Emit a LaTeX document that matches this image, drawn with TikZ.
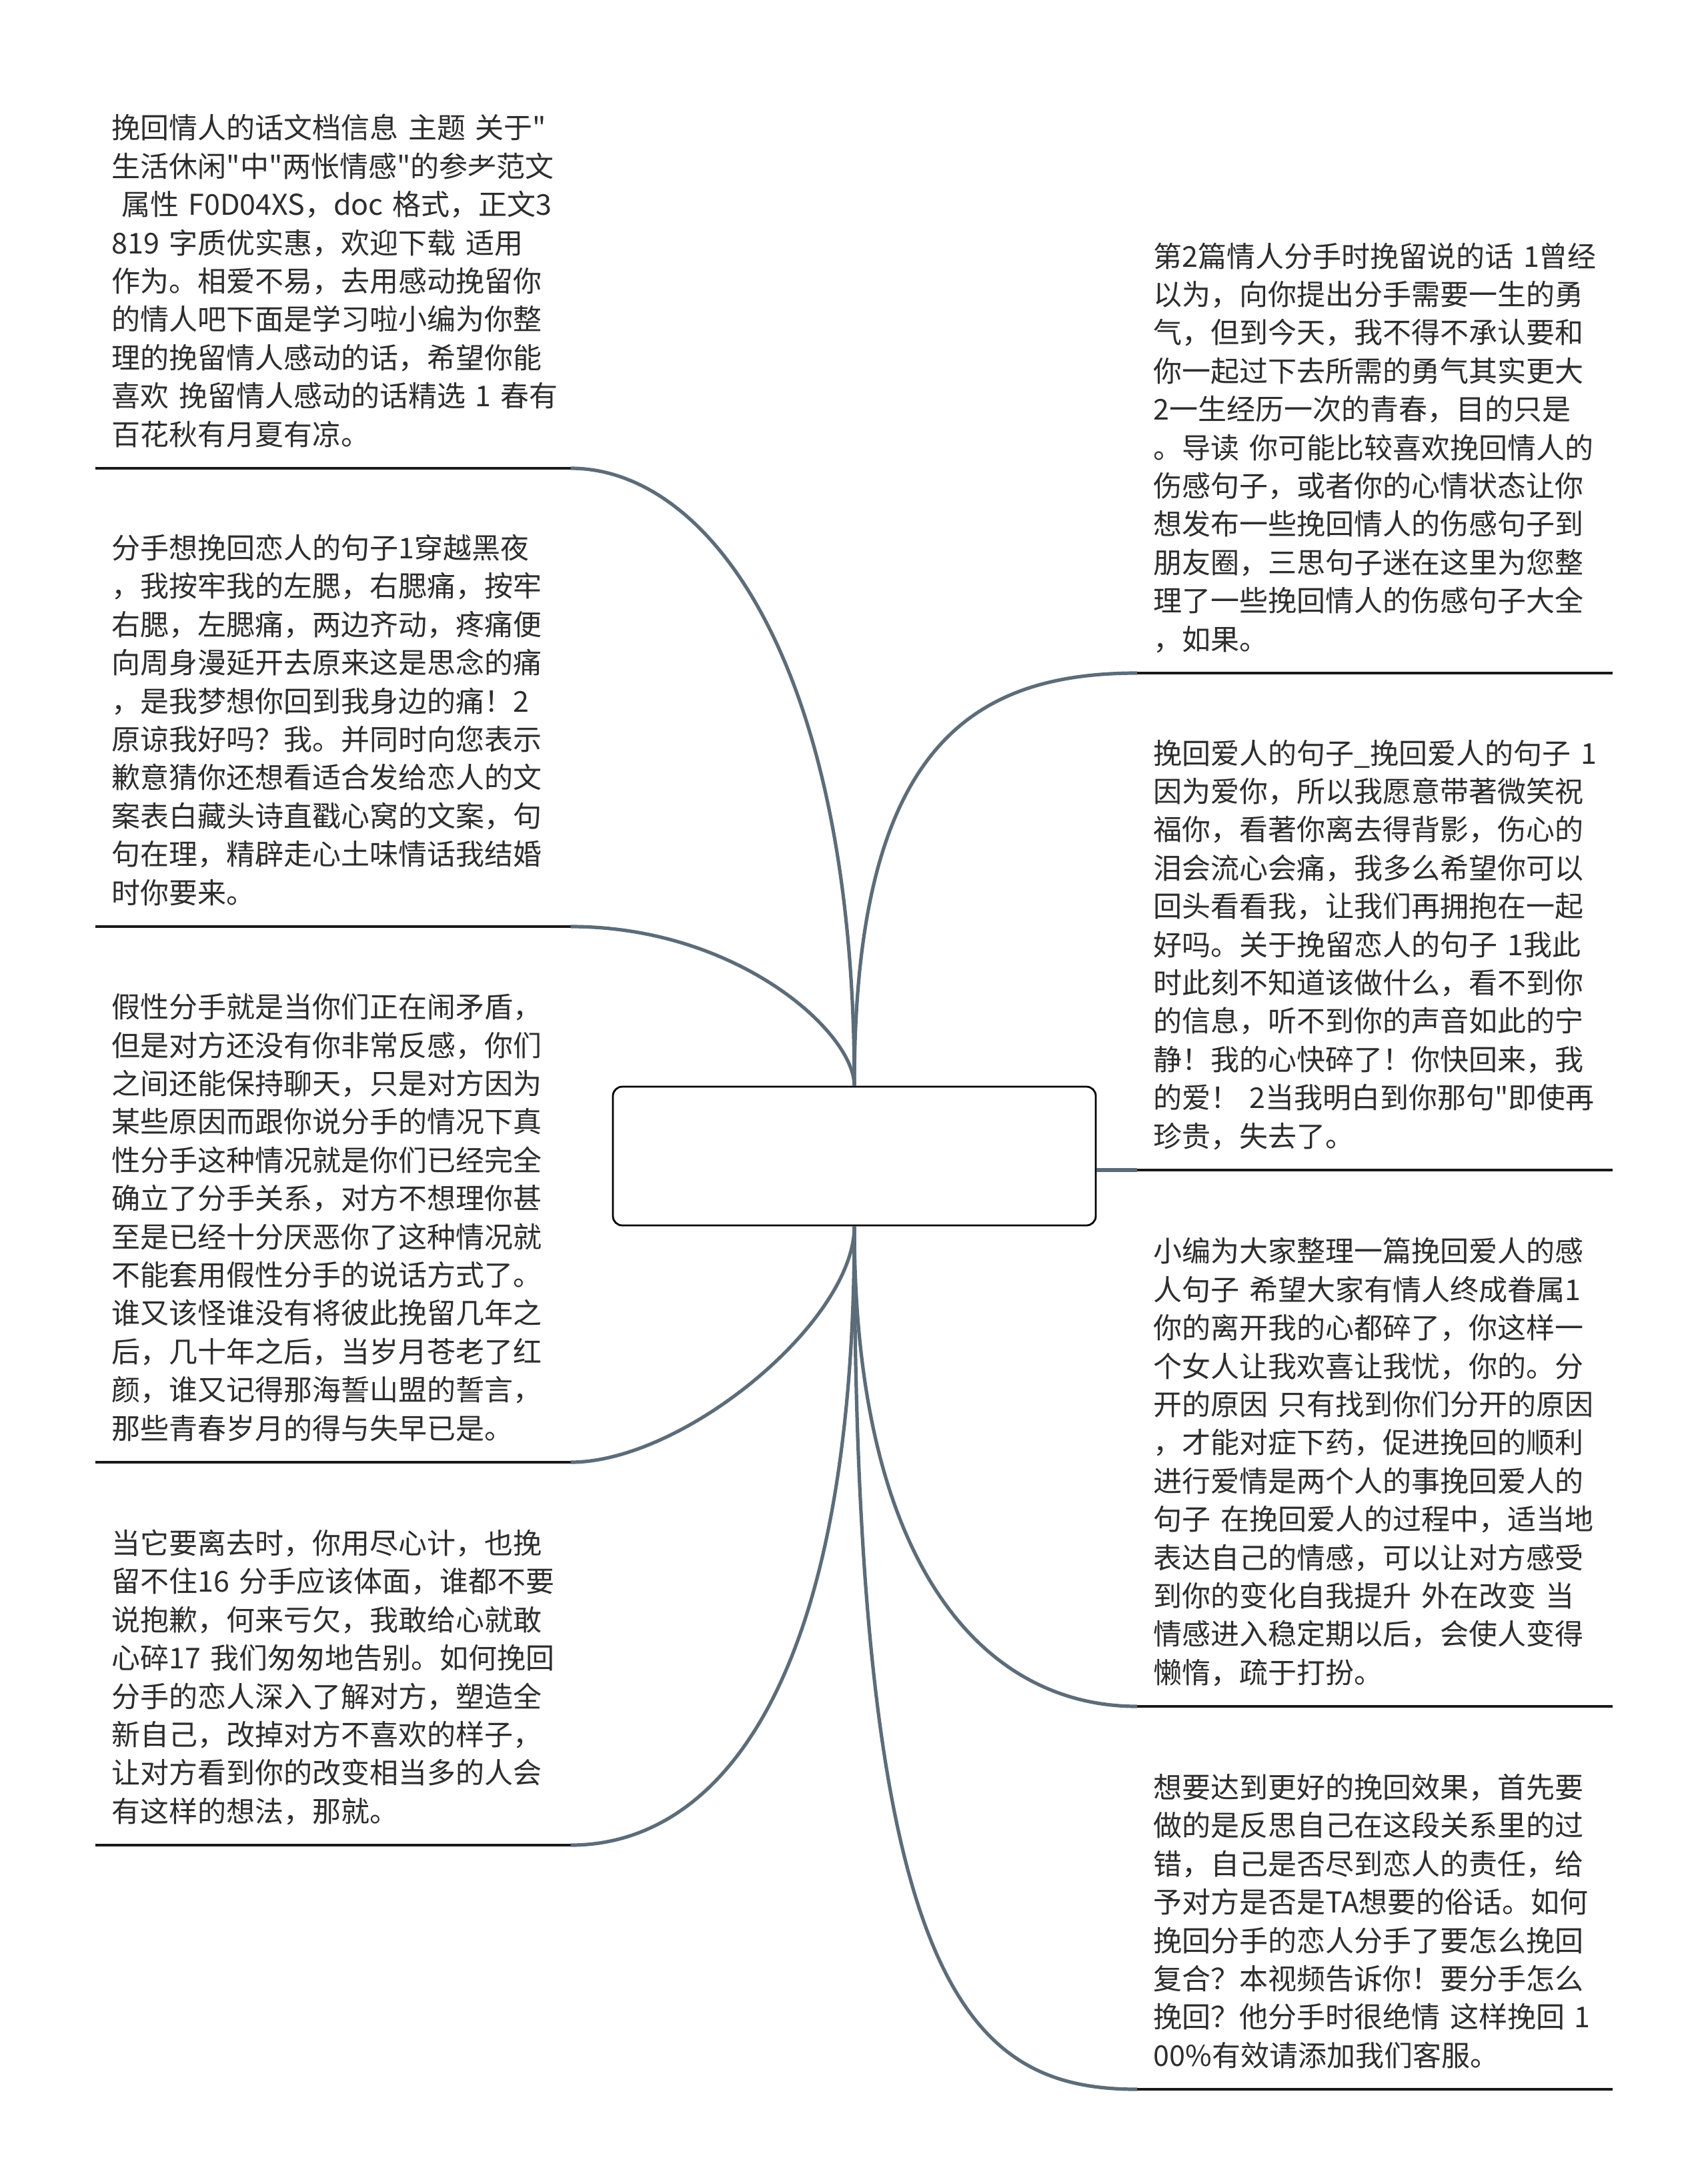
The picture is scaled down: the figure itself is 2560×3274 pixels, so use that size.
\documentclass[tikz,border=0pt]{standalone}
\usepackage{fontspec}
\newfontfamily\cjkfont{Noto Sans CJK SC}
\usetikzlibrary{positioning}
\definecolor{slate}{RGB}{92,108,121}
\definecolor{ink}{RGB}{45,45,45}

\begin{document}
\begin{tikzpicture}[
  x=0.25pt, y=-0.25pt,
  topic/.style={anchor=south west, text width=165.75pt, inner xsep=6pt, inner ysep=4.2pt,
                align=left, text=ink, font=\cjkfont\fontsize{10.75pt}{14.35pt}\selectfont},
  rootbox/.style={draw, line width=.7pt, rounded corners=3.5pt, fill=white,
                  minimum width=181pt, minimum height=52pt},
  topicline/.style={line width=1pt, draw=black!90},
  branchline/.style={draw=slate, line width=1.3pt},
]
  \useasboundingbox (0,0) rectangle (2560,3274);

  \node[rootbox] (root) at (1281,1733) {};

  % left side
  \node[topic] (left1) at (143,702) {挽回情人的话文档信息~主题~关于"\\
生活休闲"中"两怅情感"的参耂范文\\
\mbox{}~属性~F0D04XS，doc~格式，正文3\\
819~字质优实惠，欢迎下载~适用\\
作为。相爱不易，去用感动挽留你\\
的情人吧下面是学习啦小编为你整\\
理的挽留情人感动的话，希望你能\\
喜欢~挽留情人感动的话精选~1~春有\\
百花秋有月夏有凉。\strut};
  \node[topic] (left2) at (143,1389) {分手想挽回恋人的句子1穿越黑夜\\
，我按牢我的左腮，右腮痛，按牢\\
右腮，左腮痛，两边齐动，疼痛便\\
向周身漫延开去原来这是思念的痛\\
，是我梦想你回到我身边的痛！2\\
原谅我好吗？我。并同时向您表示\\
歉意猜你还想看适合发给恋人的文\\
案表白藏头诗直戳心窝的文案，句\\
句在理，精辟走心土味情话我结婚\\
时你要来。\strut};
  \node[topic] (left3) at (143,2192) {假性分手就是当你们正在闹矛盾，\\
但是对方还没有你非常反感，你们\\
之间还能保持聊天，只是对方因为\\
某些原因而跟你说分手的情况下真\\
性分手这种情况就是你们已经完全\\
确立了分手关系，对方不想理你甚\\
至是已经十分厌恶你了这种情况就\\
不能套用假性分手的说话方式了。\\
谁又该怪谁没有将彼此挽留几年之\\
后，几十年之后，当岁月苍老了红\\
颜，谁又记得那海誓山盟的誓言，\\
那些青春岁月的得与失早已是。\strut};
  \node[topic] (left4) at (143,2766) {当它要离去时，你用尽心计，也挽\\
留不住16~分手应该体面，谁都不要\\
说抱歉，何来亏欠，我敢给心就敢\\
心碎17~我们匆匆地告别。如何挽回\\
分手的恋人深入了解对方，塑造全\\
新自己，改掉对方不喜欢的样子，\\
让对方看到你的改变相当多的人会\\
有这样的想法，那就。\strut};

  % right side
  \node[topic] (right1) at (1705,1009) {第2篇情人分手时挽留说的话~1曾经\\
以为，向你提出分手需要一生的勇\\
气，但到今天，我不得不承认要和\\
你一起过下去所需的勇气其实更大\\
2一生经历一次的青春，目的只是\\
。导读~你可能比较喜欢挽回情人的\\
伤感句子，或者你的心情状态让你\\
想发布一些挽回情人的伤感句子到\\
朋友圈，三思句子迷在这里为您整\\
理了一些挽回情人的伤感句子大全\\
，如果。\strut};
  \node[topic] (right2) at (1705,1754) {挽回爱人的句子\_挽回爱人的句子~1\\
因为爱你，所以我愿意带著微笑祝\\
福你，看著你离去得背影，伤心的\\
泪会流心会痛，我多么希望你可以\\
回头看看我，让我们再拥抱在一起\\
好吗。关于挽留恋人的句子~1我此\\
时此刻不知道该做什么，看不到你\\
的信息，听不到你的声音如此的宁\\
静！我的心快碎了！你快回来，我\\
的爱！~2当我明白到你那句"即使再\\
珍贵，失去了。\strut};
  \node[topic] (right3) at (1705,2558) {小编为大家整理一篇挽回爱人的感\\
人句子~希望大家有情人终成眷属1\\
你的离开我的心都碎了，你这样一\\
个女人让我欢喜让我忧，你的。分\\
开的原因~只有找到你们分开的原因\\
，才能对症下药，促进挽回的顺利\\
进行爱情是两个人的事挽回爱人的\\
句子~在挽回爱人的过程中，适当地\\
表达自己的情感，可以让对方感受\\
到你的变化自我提升~外在改变~当\\
情感进入稳定期以后，会使人变得\\
懒惰，疏于打扮。\strut};
  \node[topic] (right4) at (1705,3132) {想要达到更好的挽回效果，首先要\\
做的是反思自己在这段关系里的过\\
错，自己是否尽到恋人的责任，给\\
予对方是否是TA想要的俗话。如何\\
挽回分手的恋人分手了要怎么挽回\\
复合？本视频告诉你！要分手怎么\\
挽回？他分手时很绝情~这样挽回~1\\
00\%有效请添加我们客服。\strut};

  % underlines
  \foreach \t in {left1,left2,left3,left4,right1,right2,right3,right4}
    \draw[topicline] (\t.south west) -- (\t.south east);

  % branches
  \draw[branchline] (root.north) .. controls +(0,-630) and +(209,0) .. (left1.south east);
  \draw[branchline] (root.north) .. controls +(0,-80) and +(250,0) .. (left2.south east);
  \draw[branchline] (root.south) .. controls +(0,142) and +(170,0) .. (left3.south east);
  \draw[branchline] (root.south) .. controls +(0,700) and +(215,0) .. (left4.south east);
  \draw[branchline] (root.north) .. controls +(0,-500) and +(-255,0) .. (right1.south west);
  \draw[branchline] (root.east |- right2.south west) -- (right2.south west);
  \draw[branchline] (root.south) .. controls +(0,505) and +(-233,0) .. (right3.south west);
  \draw[branchline] (root.south) .. controls +(0,1140) and +(-255,0) .. (right4.south west);
\end{tikzpicture}
\end{document}
